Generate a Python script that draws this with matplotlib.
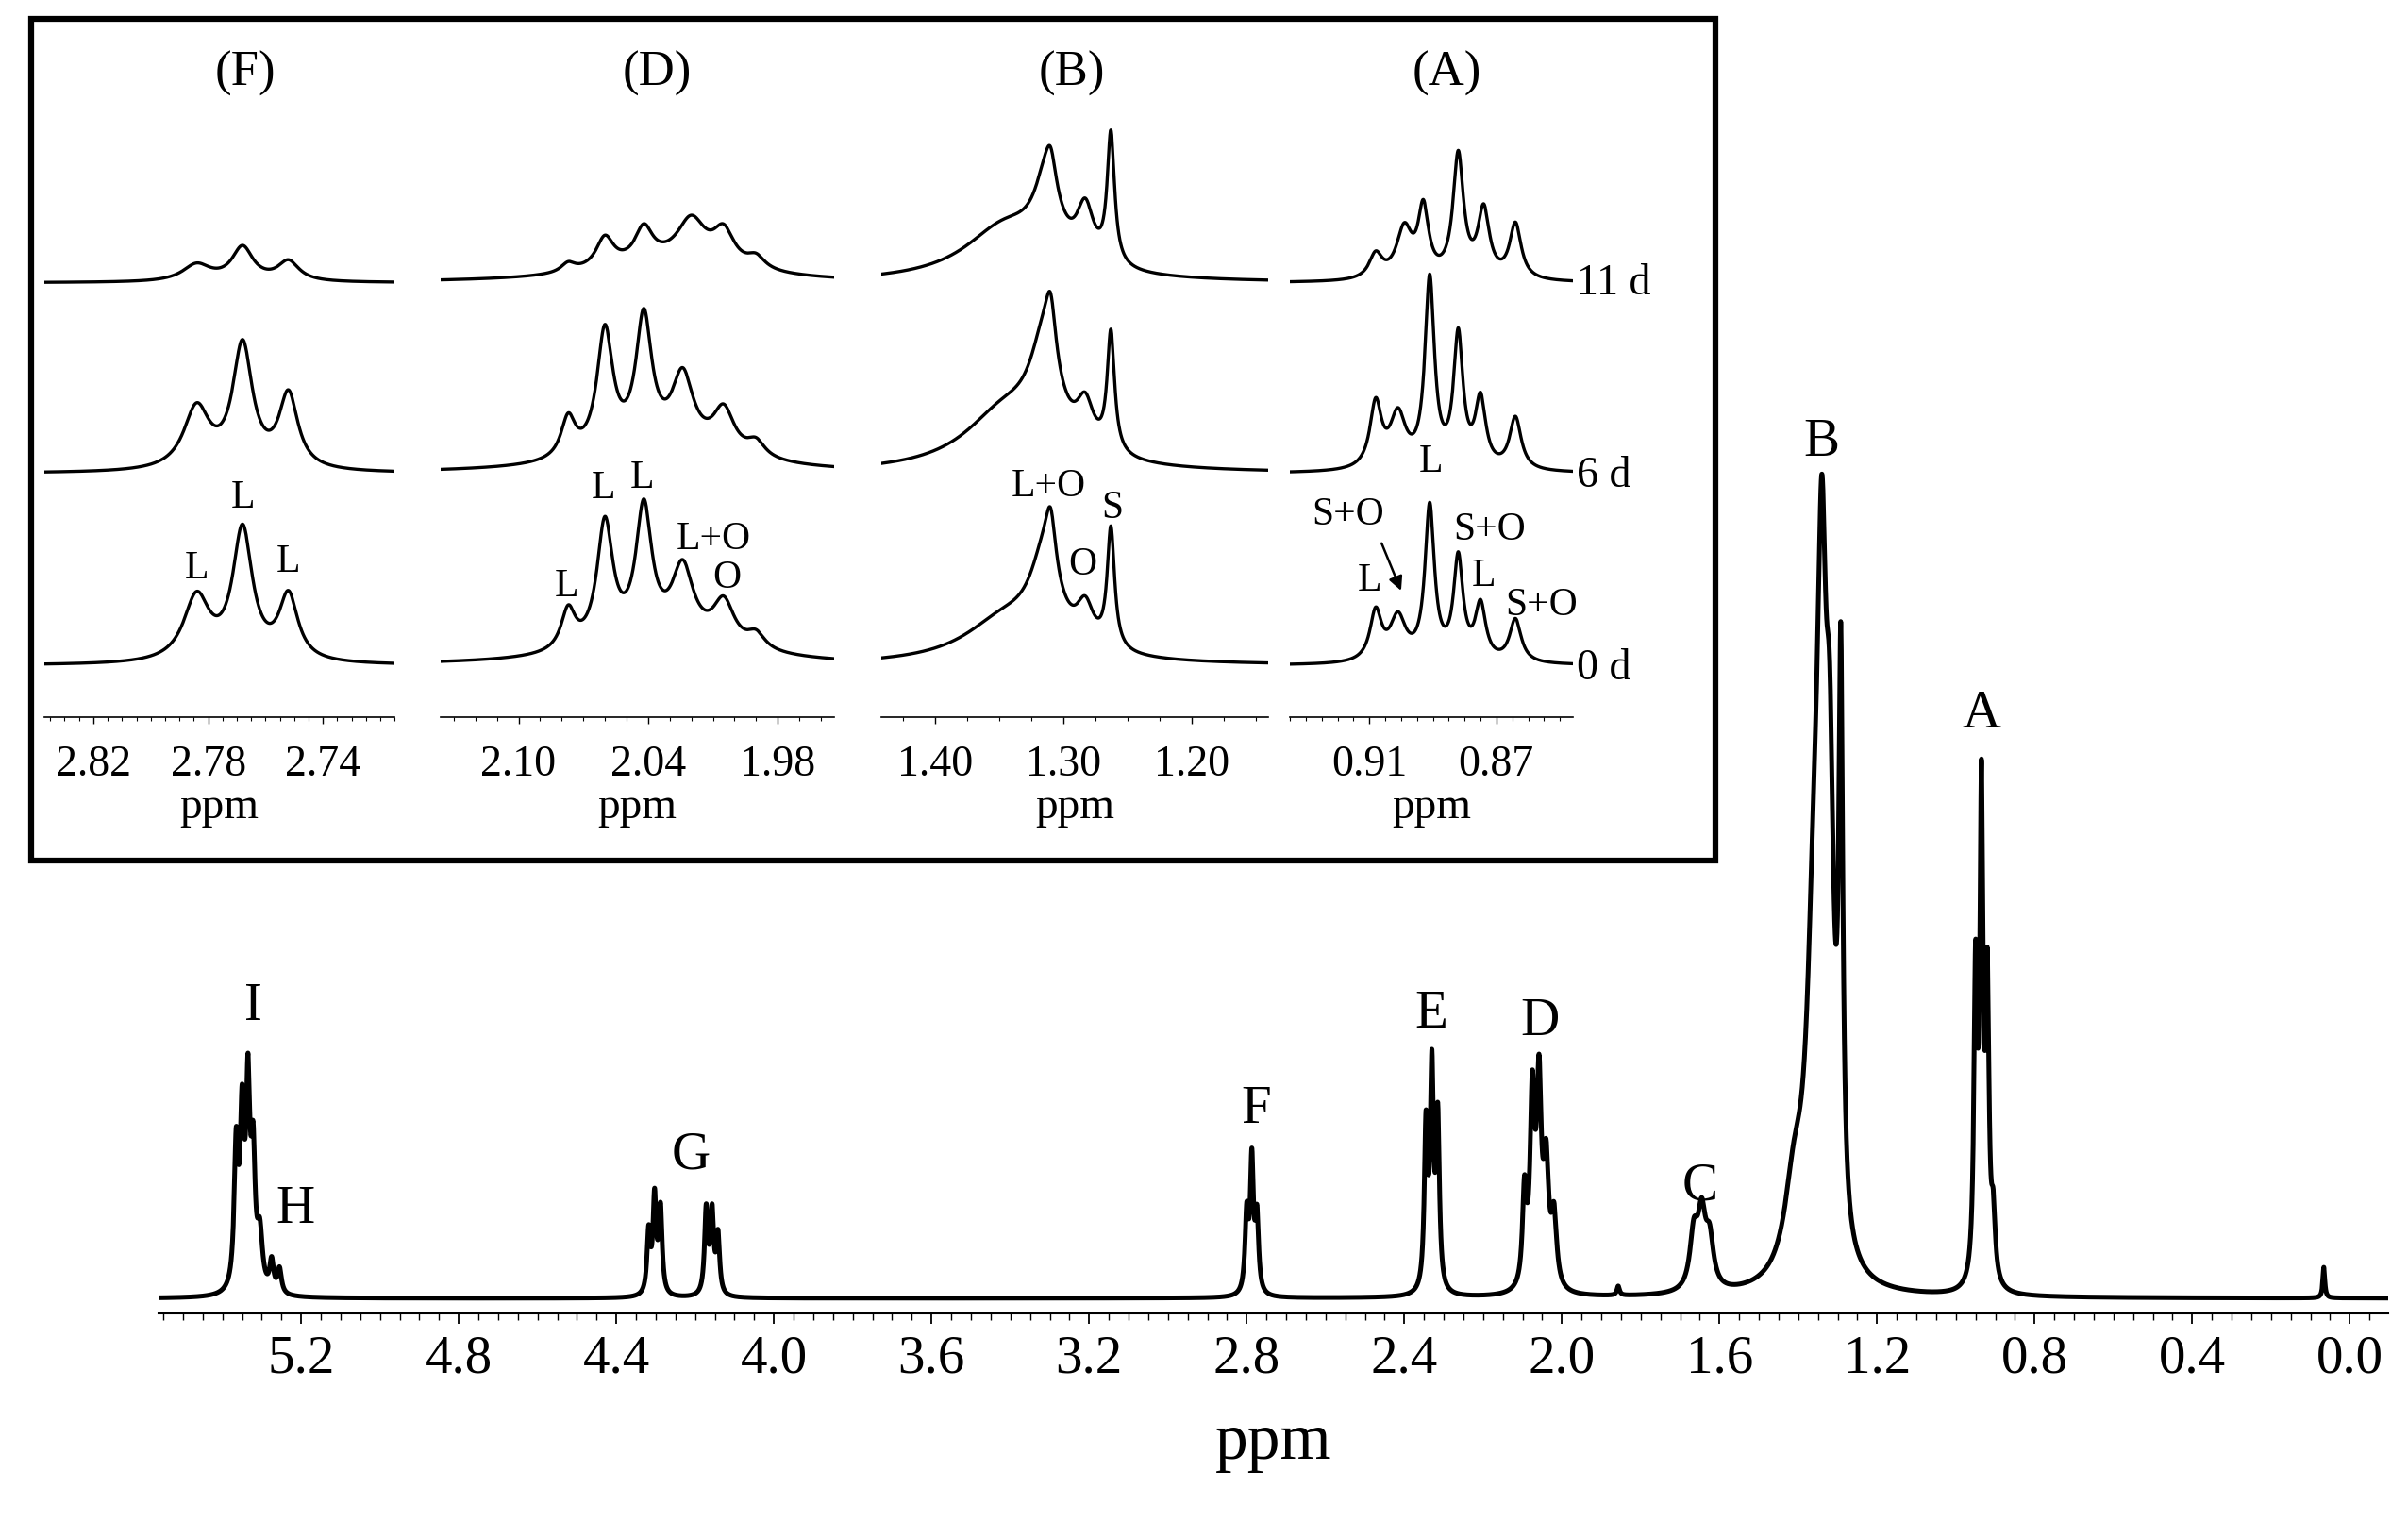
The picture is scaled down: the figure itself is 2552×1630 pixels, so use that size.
import numpy as np
import matplotlib
matplotlib.use("Agg")
import matplotlib.pyplot as plt
from matplotlib.patches import Rectangle
from matplotlib.ticker import MultipleLocator

plt.rcParams["font.family"] = "Liberation Serif"

W, H = 1568.0, 1001.0  # reference layout grid (scaled to output)

# ---- main spectrum peaks: (ppm, height, hwhm) ------------------------------
main_peaks = [
    (5.365, 90, 0.006), (5.350, 105, 0.006), (5.335, 125, 0.006), (5.322, 80, 0.006),
    (5.305, 35, 0.008), (5.275, 20, 0.006), (5.255, 16, 0.006),
    (4.318, 40, 0.005), (4.303, 62, 0.005), (4.288, 55, 0.005),
    (4.172, 55, 0.005), (4.157, 52, 0.005), (4.142, 38, 0.005),
    (2.800, 50, 0.005), (2.787, 85, 0.005), (2.774, 48, 0.005),
    (2.345, 105, 0.005), (2.330, 140, 0.005), (2.315, 110, 0.005),
    (2.095, 60, 0.006), (2.075, 120, 0.007), (2.058, 125, 0.007), (2.040, 75, 0.008),
    (2.020, 45, 0.008), (1.857, 6, 0.004),
    (1.665, 35, 0.012), (1.645, 45, 0.012), (1.625, 30, 0.012),
    (1.410, 55, 0.030), (1.360, 185, 0.022), (1.340, 360, 0.014), (1.320, 230, 0.012),
    (1.292, 355, 0.006),
    (0.950, 195, 0.005), (0.935, 310, 0.005), (0.920, 185, 0.005), (0.905, 40, 0.006),
    (0.066, 20, 0.003),
]
main_labels = ["I", "H", "G", "F", "E", "D", "C", "B", "A"]
main_label_pos = [(165, 655), (192, 787), (450, 752), (818, 722), (932, 660),
                  (1003, 665), (1107, 772), (1186, 288), (1290, 465)]
main_ticks = [5.2, 4.8, 4.4, 4.0, 3.6, 3.2, 2.8, 2.4, 2.0, 1.6, 1.2, 0.8, 0.4, 0.0]

# ---- inset panels: peaks per day (0 d, 6 d, 11 d) ---------------------------
days = ["0 d", "6 d", "11 d"]
F_peaks = {
    "0 d": [(2.784, 42, 0.0055), (2.768, 85, 0.0042), (2.752, 42, 0.0040)],
    "6 d": [(2.784, 40, 0.0055), (2.768, 80, 0.0042), (2.752, 48, 0.0040)],
    "11 d": [(2.784, 11, 0.0060), (2.768, 22, 0.0045), (2.752, 13, 0.0045)],
}
D_peaks = {
    "0 d": [(2.077, 26, 0.004), (2.060, 80, 0.0045), (2.042, 85, 0.0045), (2.024, 46, 0.006),
            (2.005, 28, 0.006), (1.990, 10, 0.005), (2.030, 14, 0.04)],
    "6 d": [(2.077, 26, 0.004), (2.060, 80, 0.0045), (2.042, 84, 0.0045), (2.024, 46, 0.006),
            (2.005, 28, 0.006), (1.990, 10, 0.005), (2.030, 14, 0.04)],
    "11 d": [(2.077, 6, 0.004), (2.060, 20, 0.005), (2.042, 22, 0.005), (2.020, 28, 0.008),
             (2.005, 22, 0.006), (1.990, 8, 0.005), (2.030, 12, 0.04)],
}
B_peaks = {
    "0 d": [(1.345, 28, 0.040), (1.315, 52, 0.014), (1.310, 38, 0.005), (1.283, 25, 0.008),
            (1.263, 78, 0.0035)],
    "6 d": [(1.345, 38, 0.040), (1.315, 62, 0.014), (1.310, 38, 0.005), (1.283, 28, 0.008),
            (1.263, 78, 0.0035)],
    "11 d": [(1.345, 35, 0.040), (1.313, 48, 0.012), (1.310, 20, 0.005), (1.283, 35, 0.008),
             (1.263, 85, 0.0035)],
}
A_peaks = {
    "0 d": [(0.908, 32, 0.0022), (0.901, 28, 0.003), (0.891, 100, 0.0018), (0.882, 66, 0.0018),
            (0.875, 36, 0.0020), (0.864, 28, 0.0022)],
    "6 d": [(0.908, 42, 0.0022), (0.901, 34, 0.003), (0.891, 122, 0.0018), (0.882, 85, 0.0018),
            (0.875, 44, 0.0020), (0.864, 34, 0.0022)],
    "11 d": [(0.908, 16, 0.0025), (0.899, 32, 0.0030), (0.893, 44, 0.0020), (0.882, 80, 0.0020),
             (0.874, 44, 0.0022), (0.864, 36, 0.0022)],
}
panel_names = ["(F)", "(D)", "(B)", "(A)"]
panel_peaks = [F_peaks, D_peaks, B_peaks, A_peaks]
panel_xlim = [(2.837, 2.715), (2.136, 1.954), (1.442, 1.140), (0.935, 0.846)]
panel_ticks = [[2.82, 2.78, 2.74], [2.10, 2.04, 1.98], [1.40, 1.30, 1.20], [0.91, 0.87]]
panel_minor = [0.005, 0.01, 0.025, 0.005]
panel_px = [(29, 257), (287, 543), (574, 826), (840, 1024)]
panel_title_x = [160, 428, 698, 942]
panel_labels = [
    [("L", 128, 370), ("L", 158, 324), ("L", 188, 366)],
    [("L", 369, 382), ("L", 393, 318), ("L", 418, 311), ("L+O", 465, 351), ("O", 473, 376)],
    [("L+O", 683, 317), ("O", 705, 368), ("S", 724, 331)],
    [("S+O", 878, 335), ("L", 892, 378), ("L", 932, 301), ("S+O", 970, 345),
     ("L", 966, 375), ("S+O", 1004, 394)],
]
day_offset = {"0 d": 34, "6 d": 159, "11 d": 283}  # trace baselines above inset axis
day_label_y = {"0 d": 435, "6 d": 310, "11 d": 185}


def spectrum(x, peaks):
    y = np.zeros_like(x)
    for c, h, w in peaks:
        y += h * w ** 2 / ((x - c) ** 2 + w ** 2)
    return y


def fx(px):
    return px / W


def fy(py):
    return 1 - py / H


fig = plt.figure(figsize=(25.52, 16.30), dpi=100)

# ---- main spectrum ----------------------------------------------------------
ax = fig.add_axes([fx(103), fy(855), fx(1555) - fx(103), fy(300) - fy(855)])
x = np.linspace(-0.12, 5.6, 60000)
ax.plot(x, spectrum(x, main_peaks), color="black", lw=3.6)
ax.set_xlim(5.563, -0.097)
ax.set_ylim(-10, 545)
for s in ("top", "left", "right"):
    ax.spines[s].set_visible(False)
ax.spines["bottom"].set_linewidth(1.5)
ax.set_yticks([])
ax.set_xticks(main_ticks)
ax.set_xticklabels([f"{t:.1f}" for t in main_ticks])
ax.xaxis.set_minor_locator(MultipleLocator(0.05))
ax.tick_params(axis="x", which="major", length=8, width=1.3, labelsize=41, pad=8)
ax.tick_params(axis="x", which="minor", length=5, width=1.0)
ax.set_xlabel("ppm", fontsize=50, labelpad=22)
for lab, (px, py) in zip(main_labels, main_label_pos):
    fig.text(fx(px), fy(py), lab, fontsize=41, ha="center", va="center")

# ---- inset ------------------------------------------------------------------
fig.patches.append(Rectangle((fx(20), fy(560)), fx(1117) - fx(20), fy(12) - fy(560),
                             transform=fig.transFigure, fill=False, lw=4.5,
                             edgecolor="black"))
for name, tx, peaks, xlim, ticks, minor, (x0, x1), labs in zip(
        panel_names, panel_title_x, panel_peaks, panel_xlim, panel_ticks, panel_minor,
        panel_px, panel_labels):
    pax = fig.add_axes([fx(x0), fy(467), fx(x1) - fx(x0), fy(60) - fy(467)])
    xs = np.linspace(xlim[1], xlim[0], 4000)
    for d in days:
        pax.plot(xs, spectrum(xs, peaks[d]) + day_offset[d], color="black", lw=2.4)
    pax.set_xlim(*xlim)
    pax.set_ylim(0, 407)
    for s in ("top", "left", "right"):
        pax.spines[s].set_visible(False)
    pax.spines["bottom"].set_linewidth(1.2)
    pax.set_yticks([])
    pax.set_xticks(ticks)
    pax.set_xticklabels([f"{t:.2f}" for t in ticks])
    pax.xaxis.set_minor_locator(MultipleLocator(minor))
    pax.tick_params(axis="x", which="major", length=5, width=1.0, labelsize=33, pad=16)
    pax.tick_params(axis="x", which="minor", length=3, width=0.8)
    pax.set_xlabel("ppm", fontsize=34, labelpad=2)
    fig.text(fx(tx), fy(48), name, fontsize=38, ha="center", va="center")
    for lab, px, py in labs:
        fig.text(fx(px), fy(py), lab, fontsize=30, ha="center", va="center")

fig.add_artist(matplotlib.patches.FancyArrowPatch(
    (fx(899), fy(352)), (fx(913), fy(386)), transform=fig.transFigure,
    arrowstyle="-|>", mutation_scale=22, lw=1.8, color="black"))
for d in days:
    fig.text(fx(1027), fy(day_label_y[d]), d, fontsize=33, ha="left", va="center")

fig.savefig("out.png", dpi=100)
